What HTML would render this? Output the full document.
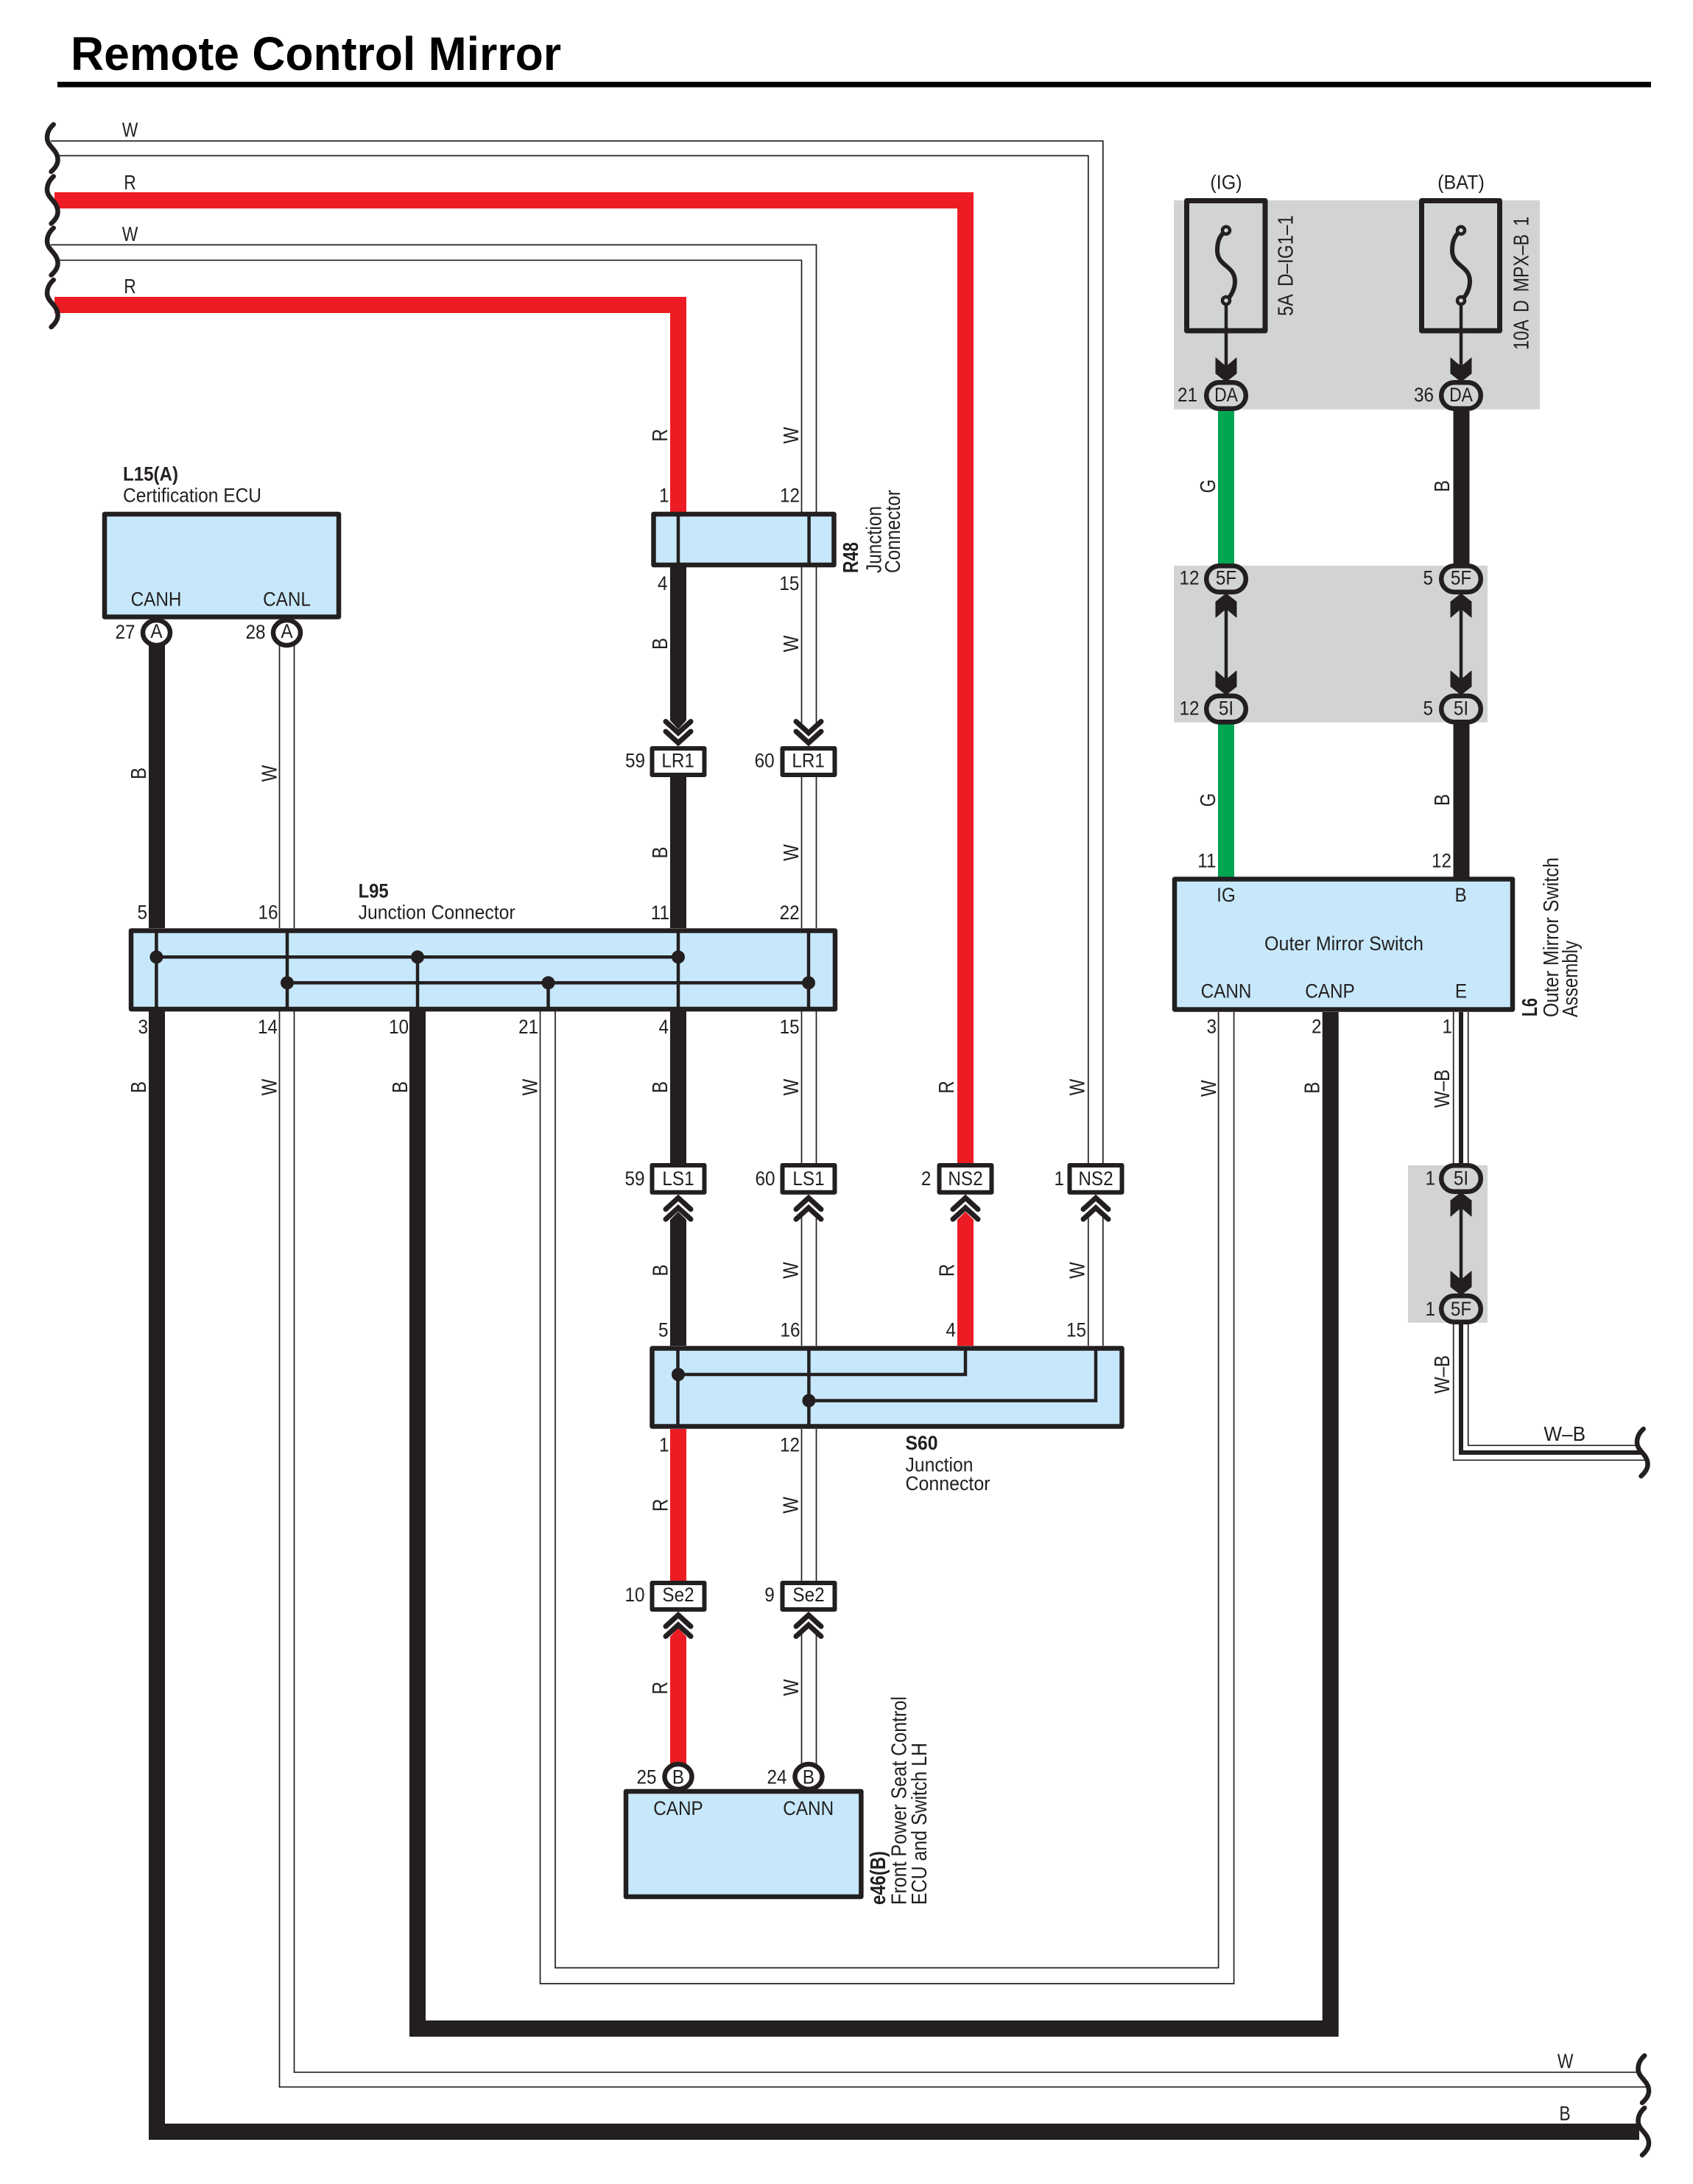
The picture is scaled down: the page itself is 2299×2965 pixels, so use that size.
<!DOCTYPE html>
<html><head><meta charset="utf-8"><title>Remote Control Mirror</title>
<style>
html,body{margin:0;padding:0;background:#fff}
svg{display:block}
text{font-family:"Liberation Sans",sans-serif;fill:#231f20}
.t{font-size:27px}
.m{text-anchor:middle}
.e{text-anchor:end}
.r{font-size:29px;text-anchor:middle}
.b{font-weight:bold}
.w{fill:none;stroke:#231f20;stroke-width:1.7}
.k{fill:none;stroke:#231f20;stroke-width:22}
.d{fill:none;stroke:#ed1c24;stroke-width:22}
.g{fill:none;stroke:#00a651;stroke-width:22}
.box{fill:#c7e8fa;stroke:#231f20;stroke-width:6.5;stroke-linejoin:round}
.wb{fill:#fff;stroke:#231f20;stroke-width:6;stroke-linejoin:round}
.in{fill:none;stroke:#231f20;stroke-width:4.5}
.f{fill:none;stroke:#231f20;stroke-width:7;stroke-linejoin:round}
.pin{fill:#fff;stroke:#231f20;stroke-width:6.5}
</style></head>
<body>
<svg width="2299" height="2965" viewBox="0 0 2299 2965" xmlns="http://www.w3.org/2000/svg">
<defs>
<path id="brace" d="M72.7 0C66 6 64 12 64 18C64 30 78.5 34 78.5 48C78.5 55 74 60 69.5 64" fill="none" stroke="#231f20" stroke-width="6.5" stroke-linecap="round"/>
<path id="arrow" d="M0 0L14 -11L14 -32L0 -20L-14 -32L-14 -11Z" fill="#231f20" stroke="#231f20" stroke-width="1" stroke-linejoin="round"/>
<g id="chev" fill="none" stroke="#231f20" stroke-width="7" stroke-linecap="round" stroke-linejoin="miter"><path d="M-17 -33.5L0 -18L17 -33.5"/><path d="M-17 -20L0 -4.5L17 -20"/></g>
<rect id="pill" x="-26.75" y="-17.75" width="53.5" height="35.5" rx="17.5" ry="17.5" fill="#d1d3d4" stroke="#231f20" stroke-width="6.5"/>
<g id="fuse"><path d="M0 313C-10 320 -12 330 -12 340C-12 362 12 360 12 382C12 392 7 402 0 408" fill="none" stroke="#231f20" stroke-width="6"/><circle cx="0" cy="312.7" r="5" fill="#d1d3d4" stroke="#231f20" stroke-width="4.5"/><circle cx="0" cy="408" r="5" fill="#d1d3d4" stroke="#231f20" stroke-width="4.5"/><path d="M0 413V505" stroke="#231f20" stroke-width="4.5"/></g>
</defs>

<!-- Title -->
<text x="96" y="95" font-size="64" class="b" textLength="666" lengthAdjust="spacingAndGlyphs" style="fill:#000">Remote Control Mirror</text>
<rect x="78" y="111" width="2164" height="7.5" fill="#000"/>

<!-- gray regions -->
<rect x="1594" y="272" width="497" height="283.7" fill="#d1d3d4"/>
<rect x="1594" y="768" width="426" height="212.7" fill="#d1d3d4"/>
<rect x="1912" y="1582" width="108" height="213.7" fill="#d1d3d4"/>

<!-- White (double-line) wires -->
<path class="w" d="M69 191.4H1497.8V1579"/>
<path class="w" d="M80 211.4H1477.8V1579"/>
<path class="w" d="M69 332.4H1108.5V695"/>
<path class="w" d="M78 353.3H1088.5V695"/>
<path class="w" d="M1088.5 770V985M1108.5 770V985"/>
<path class="w" d="M1088.5 1055V1260M1108.5 1055V1260"/>
<path class="w" d="M1088.5 1373V1579M1108.5 1373V1579"/>
<path class="w" d="M1088.5 1650V1827M1108.5 1650V1827"/>
<path class="w" d="M1088.5 1940V2146M1108.5 1940V2146"/>
<path class="w" d="M1088.5 2215V2395M1108.5 2215V2395"/>
<path class="w" d="M1477.8 1650V1827M1497.8 1650V1827"/>
<path class="w" d="M379.5 875V1260M399.5 875V1260"/>
<path class="w" d="M379.5 1373V2833.3H2236"/>
<path class="w" d="M399.5 1373V2813.3H2226"/>
<path class="w" d="M733.5 1373V2693H1675.6V1374"/>
<path class="w" d="M754 1373V2671.5H1654.6V1374"/>
<path class="w" d="M1973.7 1374V1585M1993.7 1374V1585"/>
<path class="w" d="M1973.7 1790V1982.3H2236"/>
<path class="w" d="M1993.7 1790V1962.3H2226"/>
<path d="M1984 1374V1585M1984 1790V1972H2230" fill="none" stroke="#231f20" stroke-width="6"/>

<!-- Red wires -->
<path class="d" d="M74 272H1311V1579"/>
<path class="d" d="M74 414H921V695"/>
<path d="M1300 1827V1656L1311 1645L1322 1656V1827Z" fill="#ed1c24"/>
<path class="d" d="M921 1940V2146"/>
<path d="M910 2395V2222L921 2210L932 2222V2395Z" fill="#ed1c24"/>
<!-- Green wires -->
<path class="g" d="M1665 555V770"/>
<path class="g" d="M1665 980V1193"/>
<!-- Black wires -->
<path class="k" d="M213 870V1260"/>
<path class="k" d="M213 1373V2894H2226"/>
<path class="k" d="M567 1373V2754H1806.7V1374"/>
<path d="M910 770V978L921 990L932 978V770Z" fill="#231f20"/>
<path class="k" d="M921 1055V1260"/>
<path class="k" d="M921 1373V1579"/>
<path d="M910 1827V1656L921 1645L932 1656V1827Z" fill="#231f20"/>
<path class="k" d="M1984.5 555V770"/>
<path class="k" d="M1984.5 980V1193"/>

<!-- Braces -->
<use href="#brace" y="169"/><use href="#brace" y="239.5"/><use href="#brace" y="309.5"/><use href="#brace" y="380"/>
<use href="#brace" x="2160.5" y="2790.7"/><use href="#brace" x="2160.5" y="2861.7"/>
<use href="#brace" x="2159" y="1940"/>

<!-- L15 -->
<ellipse class="pin" cx="212.5" cy="859" rx="18.5" ry="17"/>
<ellipse class="pin" cx="389.5" cy="859" rx="18.5" ry="17"/>
<rect class="box" x="142" y="698" width="318" height="139.5"/>
<!-- R48 -->
<rect class="box" x="887.5" y="698" width="245" height="69"/>
<path class="in" d="M921 698V767M1098.6 698V767"/>
<!-- L95 -->
<rect class="box" x="178" y="1263.5" width="956" height="106.5"/>
<path class="in" d="M212.4 1263.5V1370M390 1263.5V1370M921 1263.5V1370M1098 1263.5V1370M567 1299V1370M744.5 1334V1370M212.4 1299.3H921M390 1334.3H1098"/>
<g fill="#231f20"><circle cx="212.4" cy="1299.3" r="9"/><circle cx="567" cy="1299.3" r="9"/><circle cx="921" cy="1299.3" r="9"/><circle cx="390" cy="1334.3" r="9"/><circle cx="744.5" cy="1334.3" r="9"/><circle cx="1098" cy="1334.3" r="9"/></g>
<!-- S60 -->
<rect class="box" x="885.5" y="1830.5" width="638" height="106"/>
<path class="in" d="M920.5 1830.5V1936.5M1098.4 1830.5V1936.5M921 1866H1311V1830.5M1098.4 1901.5H1488V1830.5"/>
<g fill="#231f20"><circle cx="921" cy="1866" r="9"/><circle cx="1098.4" cy="1901.5" r="9"/></g>
<!-- Outer mirror switch -->
<rect class="box" x="1595" y="1193.5" width="459" height="177"/>
<!-- e46 -->
<ellipse class="pin" cx="921" cy="2412" rx="18.5" ry="17"/>
<ellipse class="pin" cx="1098" cy="2412" rx="18.5" ry="17"/>
<rect class="box" x="850" y="2432" width="319.4" height="143"/>

<!-- Connector boxes -->
<rect class="wb" x="885.5" y="1016" width="71" height="36"/>
<rect class="wb" x="1062.5" y="1016" width="71" height="36"/>
<rect class="wb" x="885.5" y="1582" width="71" height="36.7"/>
<rect class="wb" x="1062.5" y="1582" width="71" height="36.7"/>
<rect class="wb" x="1275.5" y="1582" width="71" height="36.7"/>
<rect class="wb" x="1452.5" y="1582" width="71" height="36.7"/>
<rect class="wb" x="885.5" y="2149" width="71" height="36"/>
<rect class="wb" x="1062.5" y="2149" width="71" height="36"/>

<!-- Chevrons -->
<use href="#chev" transform="translate(921 1013)"/>
<use href="#chev" transform="translate(1098 1013)"/>
<use href="#chev" transform="translate(921 1621.7) scale(1 -1)"/>
<use href="#chev" transform="translate(1098 1621.7) scale(1 -1)"/>
<use href="#chev" transform="translate(1311 1621.7) scale(1 -1)"/>
<use href="#chev" transform="translate(1488 1621.7) scale(1 -1)"/>
<use href="#chev" transform="translate(921 2188) scale(1 -1)"/>
<use href="#chev" transform="translate(1098 2188) scale(1 -1)"/>

<!-- Fuses -->
<rect class="f" x="1611.5" y="272.5" width="106.5" height="176.5"/>
<rect class="f" x="1930.5" y="272.5" width="106" height="176.5"/>
<use href="#fuse" x="1665"/><use href="#fuse" x="1984"/>
<path d="M1665 820V925M1984 820V925M1984 1635V1740" stroke="#231f20" stroke-width="4.5"/>
<use href="#arrow" transform="translate(1665 518)"/><use href="#arrow" transform="translate(1984 518)"/>
<use href="#arrow" transform="translate(1665 943)"/><use href="#arrow" transform="translate(1984 943)"/>
<use href="#arrow" transform="translate(1984 1758)"/>
<use href="#arrow" transform="translate(1665 806) scale(1 -1)"/><use href="#arrow" transform="translate(1984 806) scale(1 -1)"/>
<use href="#arrow" transform="translate(1984 1619) scale(1 -1)"/>
<use href="#pill" x="1665" y="537"/><use href="#pill" x="1984" y="537"/>
<use href="#pill" x="1665" y="786"/><use href="#pill" x="1984" y="786"/>
<use href="#pill" x="1665" y="962.5"/><use href="#pill" x="1984" y="962.5"/>
<use href="#pill" x="1984" y="1600"/><use href="#pill" x="1984" y="1777"/>

<!-- Horizontal wire labels -->
<g font-size="27.5" text-anchor="middle">
<text transform="matrix(.83 0 0 1 176.5 185.5)">W</text>
<text transform="matrix(.83 0 0 1 176.5 257)">R</text>
<text transform="matrix(.83 0 0 1 176.5 327)">W</text>
<text transform="matrix(.83 0 0 1 176.5 398)">R</text>
<text transform="matrix(.83 0 0 1 2125.7 2807.7)">W</text>
<text transform="matrix(.83 0 0 1 2125 2878.7)">B</text>
<text transform="matrix(.95 0 0 1 2124.7 1956)">W–B</text>
</g>

<!-- Rotated wire labels -->
<text class="r" transform="matrix(0 -.83 1 0 906 591)">R</text>
<text class="r" transform="matrix(0 -.83 1 0 1084 591)">W</text>
<text class="r" transform="matrix(0 -.83 1 0 906 874)">B</text>
<text class="r" transform="matrix(0 -.83 1 0 1084 874)">W</text>
<text class="r" transform="matrix(0 -.83 1 0 198 1050)">B</text>
<text class="r" transform="matrix(0 -.83 1 0 375.6 1050)">W</text>
<text class="r" transform="matrix(0 -.83 1 0 906 1157.5)">B</text>
<text class="r" transform="matrix(0 -.83 1 0 1084 1157.5)">W</text>
<text class="r" transform="matrix(0 -.83 1 0 198 1476)">B</text>
<text class="r" transform="matrix(0 -.83 1 0 375.6 1476)">W</text>
<text class="r" transform="matrix(0 -.83 1 0 553 1476)">B</text>
<text class="r" transform="matrix(0 -.83 1 0 729.7 1476)">W</text>
<text class="r" transform="matrix(0 -.83 1 0 906 1476)">B</text>
<text class="r" transform="matrix(0 -.83 1 0 1084 1476)">W</text>
<text class="r" transform="matrix(0 -.83 1 0 1295 1476)">R</text>
<text class="r" transform="matrix(0 -.83 1 0 1472.7 1476)">W</text>
<text class="r" transform="matrix(0 -.83 1 0 1651 1477.7)">W</text>
<text class="r" transform="matrix(0 -.83 1 0 1791.6 1476.7)">B</text>
<text class="r" transform="matrix(0 -.83 1 0 1968 1478)">W–B</text>
<text class="r" transform="matrix(0 -.83 1 0 906.5 1724.6)">B</text>
<text class="r" transform="matrix(0 -.83 1 0 1083.6 1724.6)">W</text>
<text class="r" transform="matrix(0 -.83 1 0 1295.5 1724.6)">R</text>
<text class="r" transform="matrix(0 -.83 1 0 1472.6 1724.6)">W</text>
<text class="r" transform="matrix(0 -.83 1 0 1968 1866)">W–B</text>
<text class="r" transform="matrix(0 -.83 1 0 906.5 2043.4)">R</text>
<text class="r" transform="matrix(0 -.83 1 0 1083.6 2043.4)">W</text>
<text class="r" transform="matrix(0 -.83 1 0 906 2291.7)">R</text>
<text class="r" transform="matrix(0 -.83 1 0 1084 2291)">W</text>
<text class="r" transform="matrix(0 -.83 1 0 1650 660)">G</text>
<text class="r" transform="matrix(0 -.83 1 0 1968 660)">B</text>
<text class="r" transform="matrix(0 -.83 1 0 1650 1086)">G</text>
<text class="r" transform="matrix(0 -.83 1 0 1968 1086)">B</text>

<!-- Pin numbers -->
<g class="t">
<text class="e" transform="matrix(.9 0 0 1 183.5 867)">27</text>
<text class="e" transform="matrix(.9 0 0 1 360.5 867)">28</text>
<text class="e" transform="matrix(.9 0 0 1 908.5 681.4)">1</text>
<text class="e" transform="matrix(.9 0 0 1 1086 681.4)">12</text>
<text class="e" transform="matrix(.9 0 0 1 906.5 800.8)">4</text>
<text class="e" transform="matrix(.9 0 0 1 1085.4 800.8)">15</text>
<text class="e" transform="matrix(.9 0 0 1 876 1041.6)">59</text>
<text class="e" transform="matrix(.9 0 0 1 1051.7 1041.6)">60</text>
<text class="e" transform="matrix(.9 0 0 1 200 1247.7)">5</text>
<text class="e" transform="matrix(.9 0 0 1 377.5 1247.7)">16</text>
<text class="e" transform="matrix(.9 0 0 1 909 1248)">11</text>
<text class="e" transform="matrix(.9 0 0 1 1085.6 1248)">22</text>
<text class="e" transform="matrix(.9 0 0 1 201 1403)">3</text>
<text class="e" transform="matrix(.9 0 0 1 377 1403)">14</text>
<text class="e" transform="matrix(.9 0 0 1 555 1403)">10</text>
<text class="e" transform="matrix(.9 0 0 1 731 1403)">21</text>
<text class="e" transform="matrix(.9 0 0 1 908 1403)">4</text>
<text class="e" transform="matrix(.9 0 0 1 1085.6 1403)">15</text>
<text class="e" transform="matrix(.9 0 0 1 875.5 1609)">59</text>
<text class="e" transform="matrix(.9 0 0 1 1052.5 1609)">60</text>
<text class="e" transform="matrix(.9 0 0 1 1264.4 1609)">2</text>
<text class="e" transform="matrix(.9 0 0 1 1445 1609)">1</text>
<text class="e" transform="matrix(.9 0 0 1 907.5 1814.6)">5</text>
<text class="e" transform="matrix(.9 0 0 1 1086.5 1814.6)">16</text>
<text class="e" transform="matrix(.9 0 0 1 1298 1814.6)">4</text>
<text class="e" transform="matrix(.9 0 0 1 1475 1814.6)">15</text>
<text class="e" transform="matrix(.9 0 0 1 908.5 1970.7)">1</text>
<text class="e" transform="matrix(.9 0 0 1 1086 1970.7)">12</text>
<text class="e" transform="matrix(.9 0 0 1 875.5 2174)">10</text>
<text class="e" transform="matrix(.9 0 0 1 1051.8 2174)">9</text>
<text class="e" transform="matrix(.9 0 0 1 891.5 2421.7)">25</text>
<text class="e" transform="matrix(.9 0 0 1 1068.5 2421.7)">24</text>
<text class="e" transform="matrix(.9 0 0 1 1626 545)">21</text>
<text class="e" transform="matrix(.9 0 0 1 1947 545)">36</text>
<text class="e" transform="matrix(.9 0 0 1 1628.5 793.3)">12</text>
<text class="e" transform="matrix(.9 0 0 1 1946 793.3)">5</text>
<text class="e" transform="matrix(.9 0 0 1 1628.5 970.7)">12</text>
<text class="e" transform="matrix(.9 0 0 1 1946 970.7)">5</text>
<text class="e" transform="matrix(.9 0 0 1 1651.5 1177.3)">11</text>
<text class="e" transform="matrix(.9 0 0 1 1971 1177.3)">12</text>
<text class="e" transform="matrix(.9 0 0 1 1652 1402.7)">3</text>
<text class="e" transform="matrix(.9 0 0 1 1794.5 1402.7)">2</text>
<text class="e" transform="matrix(.9 0 0 1 1972 1402.7)">1</text>
<text class="e" transform="matrix(.9 0 0 1 1949 1608.7)">1</text>
<text class="e" transform="matrix(.9 0 0 1 1949 1786)">1</text>

<!-- Connector codes and terminal names -->
<text class="m" transform="matrix(.9 0 0 1 212.5 866)">A</text>
<text class="m" transform="matrix(.9 0 0 1 389.5 866)">A</text>
<text class="m" transform="matrix(.9 0 0 1 212 822.6)">CANH</text>
<text class="m" transform="matrix(.9 0 0 1 389.5 822.6)">CANL</text>
<text class="m" transform="matrix(.9 0 0 1 920.6 1041.6)">LR1</text>
<text class="m" transform="matrix(.9 0 0 1 1097.6 1041.6)">LR1</text>
<text class="m" transform="matrix(.9 0 0 1 921 1609)">LS1</text>
<text class="m" transform="matrix(.9 0 0 1 1098 1609)">LS1</text>
<text class="m" transform="matrix(.9 0 0 1 1311 1609)">NS2</text>
<text class="m" transform="matrix(.9 0 0 1 1488 1609)">NS2</text>
<text class="m" transform="matrix(.9 0 0 1 921 2174)">Se2</text>
<text class="m" transform="matrix(.9 0 0 1 1098 2174)">Se2</text>
<text class="m" transform="matrix(.9 0 0 1 921 2421.7)">B</text>
<text class="m" transform="matrix(.9 0 0 1 1098 2421.7)">B</text>
<text class="m" transform="matrix(.9 0 0 1 921 2464)">CANP</text>
<text class="m" transform="matrix(.9 0 0 1 1097.7 2464)">CANN</text>
<text class="m" transform="matrix(.85 0 0 1 1665 545)">DA</text>
<text class="m" transform="matrix(.85 0 0 1 1984 545)">DA</text>
<text class="m" transform="matrix(.9 0 0 1 1665 793.3)">5F</text>
<text class="m" transform="matrix(.9 0 0 1 1984 793.3)">5F</text>
<text class="m" transform="matrix(.9 0 0 1 1665 970.7)">5I</text>
<text class="m" transform="matrix(.9 0 0 1 1984 970.7)">5I</text>
<text class="m" transform="matrix(.9 0 0 1 1984 1608.7)">5I</text>
<text class="m" transform="matrix(.9 0 0 1 1984 1786)">5F</text>
<text class="m" transform="matrix(.9 0 0 1 1665 1224)">IG</text>
<text class="m" transform="matrix(.9 0 0 1 1983.6 1224)">B</text>
<text class="m" transform="matrix(.9 0 0 1 1665 1354.3)">CANN</text>
<text class="m" transform="matrix(.9 0 0 1 1806 1354.3)">CANP</text>
<text class="m" transform="matrix(.9 0 0 1 1984 1354.3)">E</text>
<text x="1717" y="1290" textLength="216" lengthAdjust="spacingAndGlyphs">Outer Mirror Switch</text>
<text class="m" transform="matrix(.93 0 0 1 1665 256.5)">(IG)</text>
<text class="m" transform="matrix(.93 0 0 1 1984 256.5)">(BAT)</text>
<text x="167" y="652.7" class="b" textLength="75" lengthAdjust="spacingAndGlyphs">L15(A)</text>
<text x="167" y="681.4" textLength="188" lengthAdjust="spacingAndGlyphs">Certification ECU</text>
<text x="486.6" y="1218.3" class="b" textLength="41" lengthAdjust="spacingAndGlyphs">L95</text>
<text x="486.6" y="1247.7" textLength="213" lengthAdjust="spacingAndGlyphs">Junction Connector</text>
<text x="1229.5" y="1968" class="b" textLength="44" lengthAdjust="spacingAndGlyphs">S60</text>
<text x="1229.5" y="1997.5" textLength="92" lengthAdjust="spacingAndGlyphs">Junction</text>
<text x="1229.5" y="2023" textLength="115" lengthAdjust="spacingAndGlyphs">Connector</text>
</g>

<!-- Rotated component labels -->
<g font-size="29">
<text transform="translate(1755.6 429) rotate(-90)" textLength="137" lengthAdjust="spacingAndGlyphs" style="word-spacing:6px">5A D–IG1–1</text>
<text transform="translate(2075.6 475) rotate(-90)" textLength="181" lengthAdjust="spacingAndGlyphs" style="word-spacing:6px">10A D MPX–B 1</text>
<text class="b" transform="translate(1165 778) rotate(-90)" textLength="42" lengthAdjust="spacingAndGlyphs">R48</text>
<text transform="translate(1196.5 778) rotate(-90)" textLength="91" lengthAdjust="spacingAndGlyphs">Junction</text>
<text transform="translate(1222 778) rotate(-90)" textLength="113" lengthAdjust="spacingAndGlyphs">Connector</text>
<text class="b" transform="translate(2087 1380) rotate(-90)" textLength="25" lengthAdjust="spacingAndGlyphs">L6</text>
<text transform="translate(2116 1381) rotate(-90)" textLength="217" lengthAdjust="spacingAndGlyphs">Outer Mirror Switch</text>
<text transform="translate(2142 1381) rotate(-90)" textLength="104" lengthAdjust="spacingAndGlyphs">Assembly</text>
<text class="b" transform="translate(1201.8 2586) rotate(-90)" textLength="73" lengthAdjust="spacingAndGlyphs">e46(B)</text>
<text transform="translate(1230.5 2586) rotate(-90)" textLength="283" lengthAdjust="spacingAndGlyphs">Front Power Seat Control</text>
<text transform="translate(1258 2586) rotate(-90)" textLength="220" lengthAdjust="spacingAndGlyphs">ECU and Switch LH</text>
</g>
</svg>
</body></html>
